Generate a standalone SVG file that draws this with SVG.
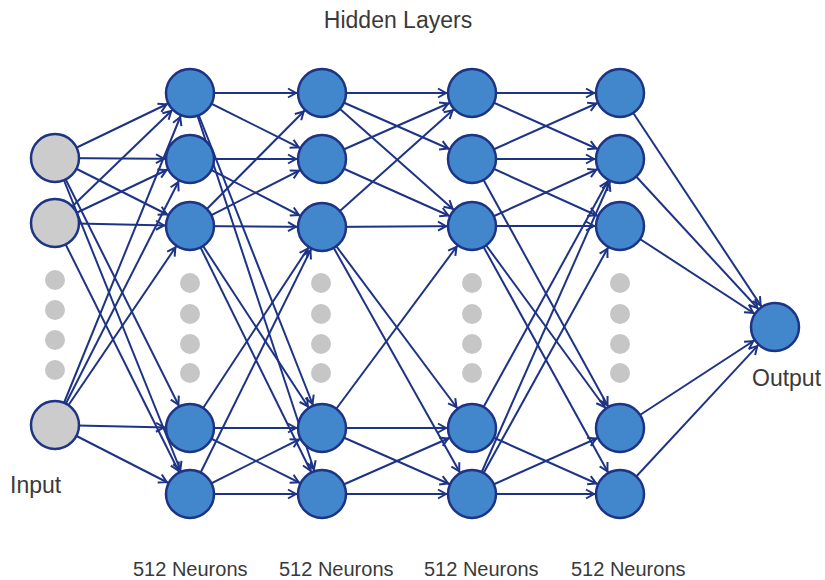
<svg xmlns="http://www.w3.org/2000/svg" width="825" height="580" viewBox="0 0 825 580">
  <style>
    .edge { stroke: #1d3385; stroke-width: 2; fill: none; marker-end: url(#arrow); }
    .in { fill: #cccccc; stroke: #1d3385; stroke-width: 2.5; }
    .hid { fill: #4286cc; stroke: #1d3385; stroke-width: 2.5; }
    .dot { fill: #c6c6c6; }
    .label { font-family: "Liberation Sans", Arial, sans-serif; font-size: 23px; fill: #3a3a3a; }
    .count { font-family: "Liberation Sans", Arial, sans-serif; font-size: 20px; fill: #3a3a3a; }
  </style>
  <defs>
    <!-- open arrowhead; tip sits 26px short of the line end (circle edge) -->
    <marker id="arrow" markerUnits="userSpaceOnUse" viewBox="0 0 36 12" markerWidth="36" markerHeight="12" refX="35" refY="6" orient="auto">
      <path d="M1,1.5 L9,6 L1,10.5" fill="none" stroke="#1d3385" stroke-width="2"/>
    </marker>
    <circle id="n" r="24"/>
  </defs>
  <rect width="825" height="580" fill="#ffffff"/>

  <g id="connectors">
    <!-- input -> hidden 1 -->
    <line class="edge" x1="55" y1="158" x2="190" y2="93"/>
    <line class="edge" x1="55" y1="158" x2="190" y2="159"/>
    <line class="edge" x1="55" y1="158" x2="190" y2="226"/>
    <line class="edge" x1="55" y1="158" x2="190" y2="428"/>
    <line class="edge" x1="55" y1="158" x2="190" y2="494"/>
    <line class="edge" x1="55" y1="223" x2="190" y2="93"/>
    <line class="edge" x1="55" y1="223" x2="190" y2="159"/>
    <line class="edge" x1="55" y1="223" x2="190" y2="226"/>
    <line class="edge" x1="55" y1="223" x2="190" y2="494"/>
    <line class="edge" x1="55" y1="425" x2="190" y2="93"/>
    <line class="edge" x1="55" y1="425" x2="190" y2="159"/>
    <line class="edge" x1="55" y1="425" x2="190" y2="226"/>
    <line class="edge" x1="55" y1="425" x2="190" y2="428"/>
    <line class="edge" x1="55" y1="425" x2="190" y2="494"/>
    <!-- hidden 1 -> hidden 2 -->
    <line class="edge" x1="190" y1="93" x2="322" y2="93"/>
    <line class="edge" x1="190" y1="93" x2="322" y2="159"/>
    <line class="edge" x1="190" y1="93" x2="322" y2="428"/>
    <line class="edge" x1="190" y1="93" x2="322" y2="494"/>
    <line class="edge" x1="190" y1="159" x2="322" y2="159"/>
    <line class="edge" x1="190" y1="159" x2="322" y2="227"/>
    <line class="edge" x1="190" y1="226" x2="322" y2="93"/>
    <line class="edge" x1="190" y1="226" x2="322" y2="159"/>
    <line class="edge" x1="190" y1="226" x2="322" y2="227"/>
    <line class="edge" x1="190" y1="226" x2="322" y2="428"/>
    <line class="edge" x1="190" y1="226" x2="322" y2="494"/>
    <line class="edge" x1="190" y1="428" x2="322" y2="227"/>
    <line class="edge" x1="190" y1="428" x2="322" y2="428"/>
    <line class="edge" x1="190" y1="428" x2="322" y2="494"/>
    <line class="edge" x1="190" y1="494" x2="322" y2="227"/>
    <line class="edge" x1="190" y1="494" x2="322" y2="428"/>
    <line class="edge" x1="190" y1="494" x2="322" y2="494"/>
    <!-- hidden 2 -> hidden 3 -->
    <line class="edge" x1="322" y1="93" x2="472" y2="93"/>
    <line class="edge" x1="322" y1="93" x2="472" y2="159"/>
    <line class="edge" x1="322" y1="93" x2="472" y2="226"/>
    <line class="edge" x1="322" y1="159" x2="472" y2="93"/>
    <line class="edge" x1="322" y1="159" x2="472" y2="226"/>
    <line class="edge" x1="322" y1="227" x2="472" y2="93"/>
    <line class="edge" x1="322" y1="227" x2="472" y2="226"/>
    <line class="edge" x1="322" y1="227" x2="472" y2="428"/>
    <line class="edge" x1="322" y1="227" x2="472" y2="494"/>
    <line class="edge" x1="322" y1="428" x2="472" y2="226"/>
    <line class="edge" x1="322" y1="428" x2="472" y2="428"/>
    <line class="edge" x1="322" y1="428" x2="472" y2="494"/>
    <line class="edge" x1="322" y1="494" x2="472" y2="428"/>
    <line class="edge" x1="322" y1="494" x2="472" y2="494"/>
    <!-- hidden 3 -> hidden 4 -->
    <line class="edge" x1="472" y1="93" x2="620" y2="93"/>
    <line class="edge" x1="472" y1="93" x2="620" y2="159"/>
    <line class="edge" x1="472" y1="159" x2="620" y2="93"/>
    <line class="edge" x1="472" y1="159" x2="620" y2="159"/>
    <line class="edge" x1="472" y1="159" x2="620" y2="226"/>
    <line class="edge" x1="472" y1="159" x2="620" y2="428"/>
    <line class="edge" x1="472" y1="226" x2="620" y2="159"/>
    <line class="edge" x1="472" y1="226" x2="620" y2="226"/>
    <line class="edge" x1="472" y1="226" x2="620" y2="428"/>
    <line class="edge" x1="472" y1="226" x2="620" y2="494"/>
    <line class="edge" x1="472" y1="428" x2="620" y2="159"/>
    <line class="edge" x1="472" y1="428" x2="620" y2="494"/>
    <line class="edge" x1="472" y1="494" x2="620" y2="159"/>
    <line class="edge" x1="472" y1="494" x2="620" y2="226"/>
    <line class="edge" x1="472" y1="494" x2="620" y2="428"/>
    <line class="edge" x1="472" y1="494" x2="620" y2="494"/>
    <!-- hidden 4 -> output -->
    <line class="edge" x1="620" y1="93" x2="775" y2="327"/>
    <line class="edge" x1="620" y1="159" x2="775" y2="327"/>
    <line class="edge" x1="620" y1="226" x2="775" y2="327"/>
    <line class="edge" x1="620" y1="428" x2="775" y2="327"/>
    <line class="edge" x1="620" y1="494" x2="775" y2="327"/>
  </g>

  <g id="input-layer">
    <use href="#n" class="in" x="55" y="158"/>
    <use href="#n" class="in" x="55" y="223"/>
    <use href="#n" class="in" x="55" y="425"/>
    <circle class="dot" cx="55" cy="280" r="10"/>
    <circle class="dot" cx="55" cy="310" r="10"/>
    <circle class="dot" cx="55" cy="340" r="10"/>
    <circle class="dot" cx="55" cy="370" r="10"/>
  </g>

  <g id="hidden-1">
    <use href="#n" class="hid" x="190" y="93"/>
    <use href="#n" class="hid" x="190" y="159"/>
    <use href="#n" class="hid" x="190" y="226"/>
    <use href="#n" class="hid" x="190" y="428"/>
    <use href="#n" class="hid" x="190" y="494"/>
    <circle class="dot" cx="190" cy="283" r="10"/>
    <circle class="dot" cx="190" cy="314" r="10"/>
    <circle class="dot" cx="190" cy="344" r="10"/>
    <circle class="dot" cx="190" cy="373" r="10"/>
  </g>

  <g id="hidden-2">
    <use href="#n" class="hid" x="322" y="93"/>
    <use href="#n" class="hid" x="322" y="159"/>
    <use href="#n" class="hid" x="322" y="227"/>
    <use href="#n" class="hid" x="322" y="428"/>
    <use href="#n" class="hid" x="322" y="494"/>
    <circle class="dot" cx="321" cy="283" r="10"/>
    <circle class="dot" cx="321" cy="314" r="10"/>
    <circle class="dot" cx="321" cy="344" r="10"/>
    <circle class="dot" cx="321" cy="373" r="10"/>
  </g>

  <g id="hidden-3">
    <use href="#n" class="hid" x="472" y="93"/>
    <use href="#n" class="hid" x="472" y="159"/>
    <use href="#n" class="hid" x="472" y="226"/>
    <use href="#n" class="hid" x="472" y="428"/>
    <use href="#n" class="hid" x="472" y="494"/>
    <circle class="dot" cx="472" cy="283" r="10"/>
    <circle class="dot" cx="472" cy="314" r="10"/>
    <circle class="dot" cx="472" cy="344" r="10"/>
    <circle class="dot" cx="472" cy="373" r="10"/>
  </g>

  <g id="hidden-4">
    <use href="#n" class="hid" x="620" y="93"/>
    <use href="#n" class="hid" x="620" y="159"/>
    <use href="#n" class="hid" x="620" y="226"/>
    <use href="#n" class="hid" x="620" y="428"/>
    <use href="#n" class="hid" x="620" y="494"/>
    <circle class="dot" cx="620" cy="283" r="10"/>
    <circle class="dot" cx="620" cy="314" r="10"/>
    <circle class="dot" cx="620" cy="344" r="10"/>
    <circle class="dot" cx="620" cy="373" r="10"/>
  </g>

  <g id="output-layer">
    <use href="#n" class="hid" x="775" y="327"/>
  </g>

  <g id="labels">
    <text class="label" x="398" y="28" text-anchor="middle">Hidden Layers</text>
    <text class="label" x="10" y="493">Input</text>
    <text class="label" x="752" y="386">Output</text>
    <text class="count" x="133" y="576">512 Neurons</text>
    <text class="count" x="279" y="576">512 Neurons</text>
    <text class="count" x="424" y="576">512 Neurons</text>
    <text class="count" x="571" y="576">512 Neurons</text>
  </g>
</svg>
